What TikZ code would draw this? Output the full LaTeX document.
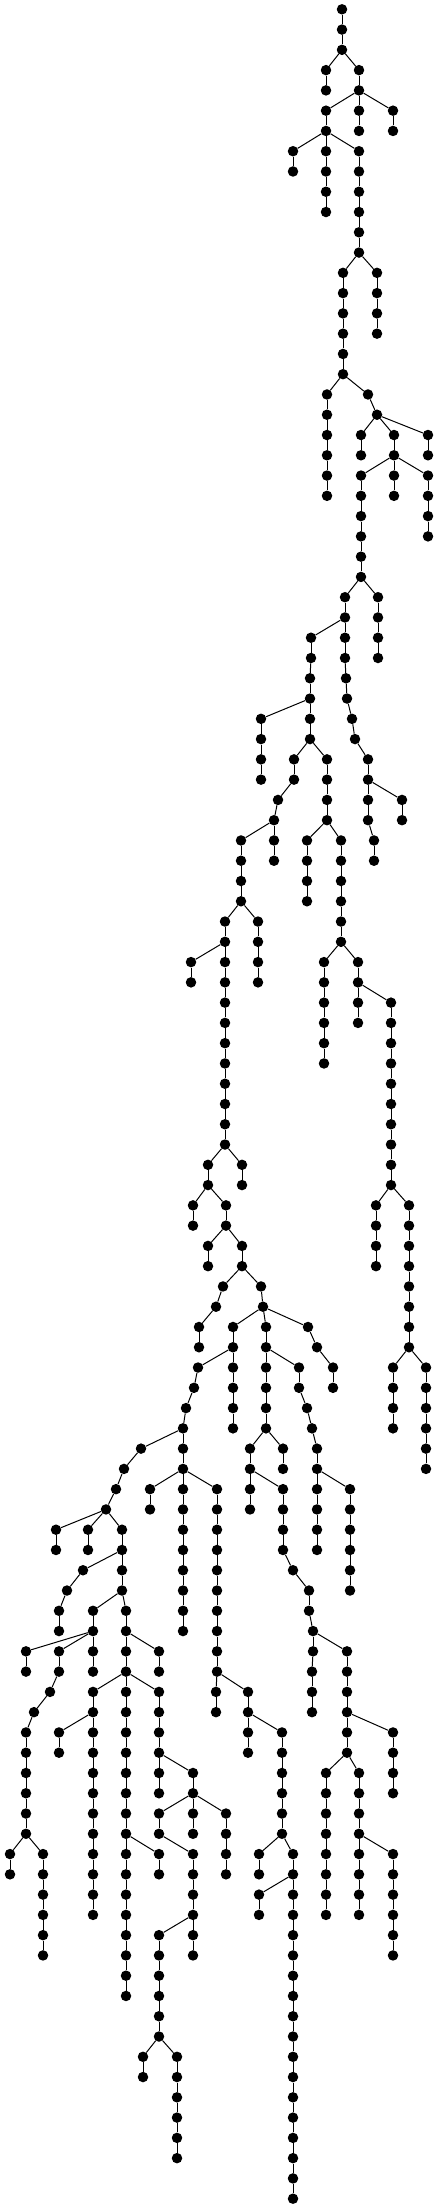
\documentclass[tikz,border=0pt]{standalone}
\usepackage{tikz}
\usetikzlibrary{arrows.meta}

\begin{document}
\begin{tikzpicture}[x=1pt,y=1pt,
  vtx/.style={circle,fill=black,inner sep=0pt,minimum size=10.5pt},
  edge/.style={line width=1pt}]
  \def\dy{20.272}
  \useasboundingbox (0,0) rectangle (438,-2209);
  \node[vtx] (n0x342) at (342,-9.3) {};
  \foreach \xx/\lev/\px in {
    342/1/342, 342/2/342,
    326/3/342, 359/3/342,
    326/4/326, 359/4/359,
    326/5/359, 359/5/359, 393/5/359,
    326/6/326, 359/6/359, 393/6/393,
    293/7/326, 326/7/326, 359/7/326,
    293/8/293, 326/8/326, 359/8/359,
    326/9/326, 359/9/359,
    326/10/326, 359/10/359,
    359/11/359, 359/12/359,
    343/13/359, 377/13/359,
    343/14/343, 377/14/377,
    343/15/343, 377/15/377,
    343/16/343, 377/16/377,
    343/17/343, 343/18/343,
    327/19/343, 368/19/343,
    327/20/327, 377/20/368,
    327/21/327, 361/21/377, 394/21/377, 428/21/377,
    327/22/327, 361/22/361, 394/22/394, 428/22/428,
    327/23/327, 361/23/394, 394/23/394, 428/23/394,
    327/24/327, 361/24/361, 394/24/394, 428/24/428,
    361/25/361, 428/25/428,
    361/26/361, 428/26/428,
    361/27/361, 361/28/361,
    345/29/361, 378/29/361,
    345/30/345, 378/30/378,
    311/31/345, 345/31/345, 378/31/378,
    311/32/311, 345/32/345, 378/32/378,
    310/33/311, 346/33/345,
    310/34/310, 347/34/346,
    261/35/310, 310/35/310, 352/35/347,
    261/36/261, 310/36/310, 355/36/352,
    261/37/261, 294/37/310, 327/37/310, 368/37/355,
    261/38/261, 294/38/294, 327/38/327, 368/38/368,
    278/39/294, 327/39/327, 368/39/368, 402/39/368,
    274/40/278, 327/40/327, 368/40/368, 402/40/402,
    241/41/274, 274/41/274, 307/41/327, 341/41/327, 374/41/368,
    241/42/241, 274/42/274, 307/42/307, 341/42/341, 374/42/374,
    241/43/241, 307/43/307, 341/43/341,
    241/44/241, 307/44/307, 341/44/341,
    225/45/241, 258/45/241, 341/45/341,
    225/46/225, 258/46/258, 341/46/341,
    191/47/225, 225/47/225, 258/47/258, 324/47/341, 358/47/341,
    191/48/191, 225/48/225, 258/48/258, 324/48/324, 358/48/358,
    225/49/225, 324/49/324, 358/49/358, 391/49/358,
    225/50/225, 324/50/324, 358/50/358, 391/50/391,
    225/51/225, 324/51/324, 391/51/391,
    225/52/225, 324/52/324, 391/52/391,
    225/53/225, 391/53/391,
    225/54/225, 391/54/391,
    225/55/225, 391/55/391,
    225/56/225, 391/56/391,
    208/57/225, 242/57/225, 391/57/391,
    208/58/208, 242/58/242, 391/58/391,
    193/59/208, 226/59/208, 376/59/391, 409/59/391,
    193/60/193, 226/60/226, 376/60/376, 409/60/409,
    208/61/226, 242/61/226, 376/61/376, 409/61/409,
    208/62/208, 242/62/242, 376/62/376, 409/62/409,
    223/63/242, 261/63/242, 409/63/409,
    216/64/223, 263/64/261, 409/64/409,
    199/65/216, 233/65/263, 266/65/263, 308/65/263, 409/65/409,
    199/66/199, 233/66/233, 266/66/266, 317/66/308, 409/66/409,
    198/67/233, 233/67/233, 266/67/266, 299/67/266, 333/67/317, 393/67/409, 426/67/409,
    194/68/198, 233/68/233, 266/68/266, 299/68/299, 333/68/333, 393/68/393, 426/68/426,
    186/69/194, 233/69/233, 266/69/266, 307/69/299, 393/69/393, 426/69/426,
    183/70/186, 233/70/233, 266/70/266, 312/70/307, 393/70/393, 426/70/426,
    141/71/183, 183/71/183, 250/71/266, 283/71/266, 317/71/312, 426/71/426,
    124/72/141, 183/72/183, 250/72/250, 283/72/283, 317/72/317, 426/72/426,
    116/73/124, 150/73/183, 183/73/183, 217/73/183, 250/73/250, 283/73/250, 317/73/317, 350/73/317,
    106/74/116, 150/74/150, 183/74/183, 217/74/217, 250/74/250, 283/74/283, 317/74/317, 350/74/350,
    56/75/106, 88/75/106, 122/75/106, 183/75/183, 217/75/217, 283/75/283, 317/75/317, 350/75/350,
    56/76/56, 88/76/88, 122/76/122, 183/76/183, 217/76/217, 283/76/283, 317/76/317, 350/76/350,
    83/77/122, 122/77/122, 183/77/183, 217/77/217, 293/77/283, 350/77/350,
    67/78/83, 122/78/122, 183/78/183, 217/78/217, 309/78/293, 350/78/350,
    59/79/67, 93/79/122, 126/79/122, 183/79/183, 217/79/217, 309/79/309,
    59/80/59, 93/80/93, 126/80/126, 183/80/183, 217/80/217, 313/80/309,
    26/81/93, 59/81/93, 93/81/93, 126/81/126, 159/81/126, 217/81/217, 313/81/313, 347/81/313,
    26/82/26, 59/82/59, 93/82/93, 126/82/126, 159/82/159, 217/82/217, 312/82/313, 347/82/347,
    50/83/59, 93/83/126, 126/83/126, 159/83/126, 216/83/217, 248/83/217, 312/83/312, 347/83/347,
    34/84/50, 93/84/93, 126/84/126, 159/84/159, 216/84/216, 248/84/248, 312/84/312, 347/84/347,
    26/85/34, 59/85/93, 93/85/93, 126/85/126, 159/85/159, 248/85/248, 282/85/248, 347/85/347, 393/85/347,
    26/86/26, 59/86/59, 93/86/93, 126/86/126, 159/86/159, 248/86/248, 282/86/282, 347/86/347, 393/86/393,
    26/87/26, 93/87/93, 126/87/126, 159/87/159, 193/87/159, 282/87/282, 326/87/347, 359/87/347, 393/87/393,
    26/88/26, 93/88/93, 126/88/126, 159/88/159, 193/88/193, 282/88/282, 326/88/326, 359/88/359, 393/88/393,
    26/89/26, 93/89/93, 126/89/126, 159/89/193, 193/89/193, 226/89/193, 282/89/282, 326/89/326, 359/89/359,
    26/90/26, 93/90/93, 126/90/126, 159/90/159, 193/90/193, 226/90/226, 282/90/282, 326/90/326, 359/90/359,
    10/91/26, 43/91/26, 93/91/93, 126/91/126, 159/91/126, 193/91/159, 226/91/226, 259/91/282, 293/91/282, 326/91/326, 359/91/359, 393/91/359,
    10/92/10, 43/92/43, 93/92/93, 126/92/126, 159/92/159, 193/92/193, 226/92/226, 259/92/259, 293/92/293, 326/92/326, 359/92/359, 393/92/393,
    43/93/43, 93/93/93, 126/93/126, 193/93/193, 259/93/293, 293/93/293, 326/93/326, 359/93/359, 393/93/393,
    43/94/43, 93/94/93, 126/94/126, 193/94/193, 259/94/259, 293/94/293, 326/94/326, 359/94/359, 393/94/393,
    43/95/43, 126/95/126, 159/95/193, 193/95/193, 293/95/293, 393/95/393,
    43/96/43, 126/96/126, 159/96/159, 193/96/193, 293/96/293, 393/96/393,
    126/97/126, 159/97/159, 293/97/293,
    126/98/126, 159/98/159, 293/98/293,
    159/99/159, 293/99/293,
    159/100/159, 293/100/293,
    143/101/159, 177/101/159, 293/101/293,
    143/102/143, 177/102/177, 293/102/293,
    177/103/177, 293/103/293,
    177/104/177, 293/104/293,
    177/105/177, 293/105/293,
    177/106/177, 293/106/293,
    293/107/293, 293/108/293}{
    \pgfmathtruncatemacro\up{\lev-1}
    \node[vtx] (n\lev x\xx) at (\xx,{-9.3-\dy*\lev}) {};
    \draw[edge] (n\up x\px) -- (n\lev x\xx);
  }
\end{tikzpicture}
\end{document}
